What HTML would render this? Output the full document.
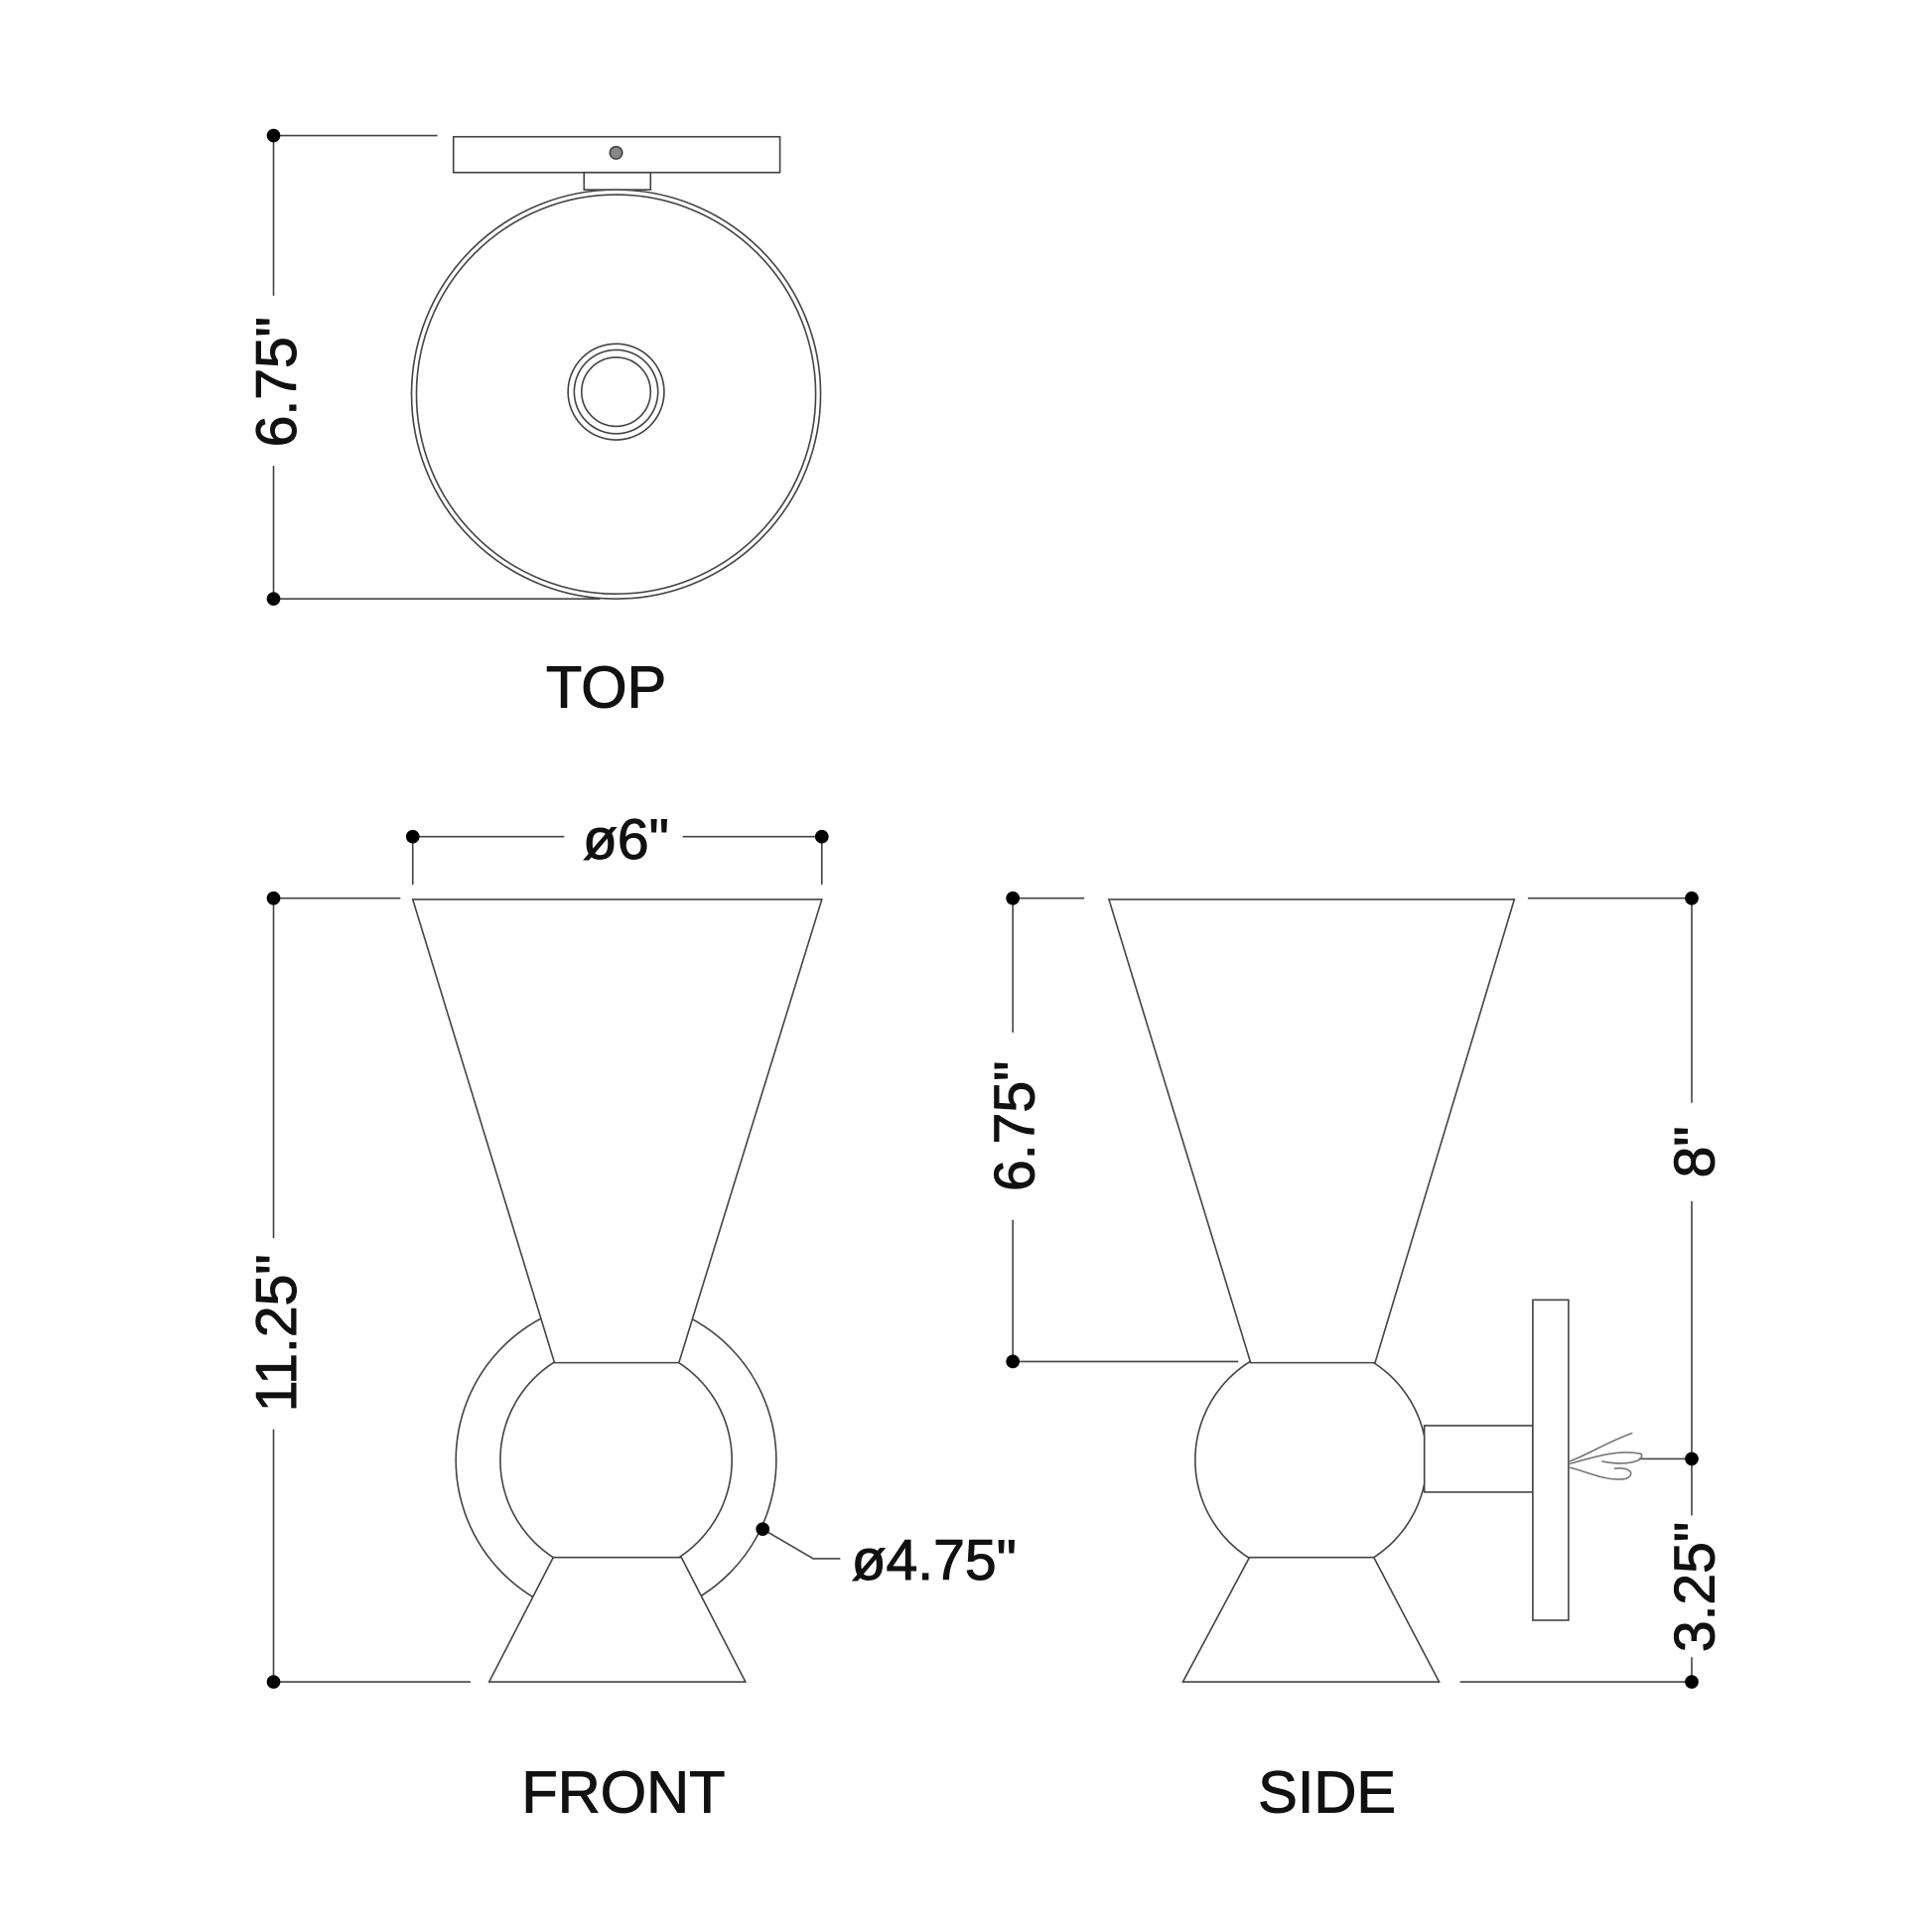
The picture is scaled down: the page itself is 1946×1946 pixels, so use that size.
<!DOCTYPE html>
<html><head><meta charset="utf-8"><style>html,body{margin:0;padding:0;background:#fff}svg{display:block}</style></head>
<body>
<svg width="1946" height="1946" viewBox="0 0 1568 1568" xmlns="http://www.w3.org/2000/svg">
<g fill="none" stroke="#444" stroke-width="1.3">
<!-- TOP -->
<line x1="222" y1="110" x2="355" y2="110"/>
<line x1="222" y1="486" x2="487" y2="486"/>
<line x1="222" y1="110" x2="222" y2="240"/>
<line x1="222" y1="378" x2="222" y2="486"/>
<rect x="368" y="111" width="265" height="29"/>
<circle cx="500" cy="124" r="5" fill="#888"/>
<rect x="474" y="140" width="54" height="14"/>
<circle cx="500" cy="320" r="166" fill="#fff"/>
<circle cx="500" cy="320" r="162"/>
<circle cx="500" cy="318" r="39"/>
<circle cx="500" cy="318" r="34"/>
<circle cx="500" cy="318" r="28"/>
<!-- FRONT -->
<line x1="335" y1="679" x2="458" y2="679"/>
<line x1="554" y1="679" x2="667" y2="679"/>
<line x1="335" y1="684" x2="335" y2="718"/>
<line x1="667" y1="684" x2="667" y2="718"/>
<line x1="222" y1="729" x2="325" y2="729"/>
<line x1="222" y1="1365" x2="382" y2="1365"/>
<line x1="222" y1="729" x2="222" y2="1005"/>
<line x1="222" y1="1160" x2="222" y2="1365"/>
<circle cx="500" cy="1185" r="130"/>
<circle cx="500" cy="1185" r="94" fill="#fff"/>
<polygon points="335,730 667,730 551,1106 450,1106" fill="#fff"/>
<polygon points="449,1264 553,1264 605,1365 397,1365" fill="#fff"/>
<polyline points="619,1241 660,1265 682,1265"/>
<!-- SIDE -->
<line x1="822" y1="729" x2="880" y2="729"/>
<line x1="822" y1="1105" x2="1005" y2="1105"/>
<line x1="822" y1="729" x2="822" y2="838"/>
<line x1="822" y1="990" x2="822" y2="1105"/>
<line x1="1240" y1="729" x2="1373" y2="729"/>
<line x1="1185" y1="1365" x2="1373" y2="1365"/>
<line x1="1330" y1="1184" x2="1373" y2="1184"/>
<line x1="1373" y1="729" x2="1373" y2="895"/>
<line x1="1373" y1="975" x2="1373" y2="1230"/>
<line x1="1373" y1="1345" x2="1373" y2="1365"/>
<circle cx="1064" cy="1185" r="94" fill="#fff"/>
<polygon points="900,730 1229,730 1116,1106 1015,1106" fill="#fff"/>
<polygon points="1014,1264 1115,1264 1168,1365 960,1365" fill="#fff"/>
<rect x="1156" y="1157" width="88" height="54" fill="#fff"/>
<rect x="1244" y="1055" width="29" height="260" fill="#fff"/>
<path d="M1274,1186 C1290,1180 1305,1170 1325,1163 M1274,1188 C1295,1182 1315,1176 1332,1180 C1335,1186 1320,1190 1300,1186 M1274,1191 C1290,1195 1305,1203 1320,1200 C1328,1196 1322,1190 1310,1192" stroke="#777"/>
</g>
<g fill="#000">
<circle cx="222" cy="110" r="5.5"/><circle cx="222" cy="486" r="5.5"/>
<circle cx="335" cy="679" r="5.5"/><circle cx="667" cy="679" r="5.5"/>
<circle cx="222" cy="729" r="5.5"/><circle cx="222" cy="1365" r="5.5"/>
<circle cx="619" cy="1241" r="5.5"/>
<circle cx="822" cy="729" r="5.5"/><circle cx="822" cy="1105" r="5.5"/>
<circle cx="1373" cy="729" r="5.5"/><circle cx="1373" cy="1184" r="5.5"/><circle cx="1373" cy="1365" r="5.5"/>
</g>
<g font-family="Liberation Sans, sans-serif" fill="#111" stroke="#111" stroke-width="0.8" font-size="46" text-anchor="middle">
<text x="492" y="574" font-size="48">TOP</text>
<text x="506" y="1471" font-size="48">FRONT</text>
<text x="1077" y="1471" font-size="48">SIDE</text>
<text x="508" y="697">ø6"</text>
<text x="758" y="1282">ø4.75"</text>
<text transform="translate(240,310) rotate(-90)">6.75"</text>
<text transform="translate(240,1082) rotate(-90)">11.25"</text>
<text transform="translate(839,914) rotate(-90)">6.75"</text>
<text transform="translate(1391,935) rotate(-90)">8"</text>
<text transform="translate(1391,1288) rotate(-90)">3.25"</text>
</g>
</svg>
</body></html>
